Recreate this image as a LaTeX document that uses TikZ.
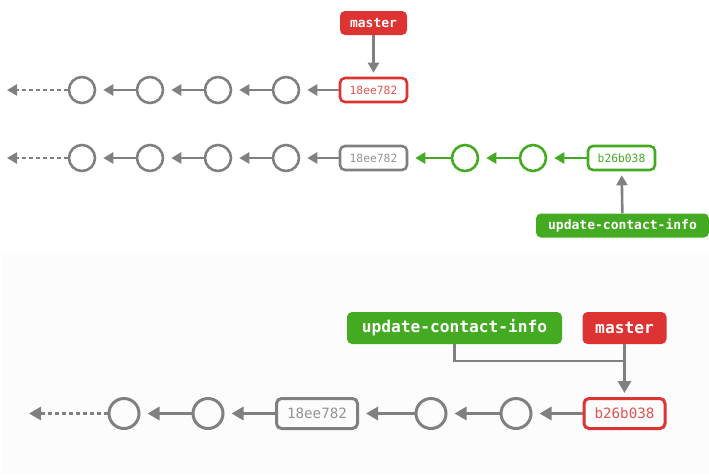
\documentclass[tikz,border=0pt]{standalone}
\usepackage{fontspec}
\setmonofont{DejaVu Sans Mono}
\usetikzlibrary{arrows.meta}
\definecolor{gitred}{RGB}{221,51,51}
\definecolor{gitgreen}{RGB}{68,170,34}
\definecolor{gitgray}{RGB}{128,128,128}
\definecolor{bandgray}{RGB}{252,252,252}
\tikzset{
  cmt/.style={circle, draw=gitgray, line width=2.6pt, minimum size=26pt, inner sep=0pt},
  bcmt/.style={cmt, line width=3pt, minimum size=30pt},
  hashbox/.style={rounded corners=5pt, draw, line width=2.6pt, minimum width=67pt, minimum height=24pt, inner sep=0pt, font=\ttfamily\fontsize{11.3}{13}\selectfont},
  bhashbox/.style={hashbox, line width=3pt, minimum width=81pt, minimum height=30pt, font=\ttfamily\fontsize{14.2}{16}\selectfont},
  lbl/.style={rounded corners=5pt, fill, text=white, minimum height=24pt, inner sep=0pt, font=\ttfamily\bfseries\fontsize{13}{15}\selectfont},
  blbl/.style={lbl, minimum height=32pt, font=\ttfamily\bfseries\fontsize{16.2}{18}\selectfont},
  par/.style={draw=gitgray, line width=2.6pt, -{Triangle[length=10pt,width=11pt]}, shorten >=7pt},
  gpar/.style={par, draw=gitgreen, -{Triangle[length=10pt,width=11pt]}},
  bpar/.style={par, line width=3pt, -{Triangle[length=12pt,width=13pt]}, shorten >=7pt},
  ptr/.style={draw=gitgray, line width=2.6pt, -{Triangle[length=10pt,width=11pt]}, shorten >=4pt},
  bptr/.style={ptr, line width=3pt, -{Triangle[length=12pt,width=13pt]}},
  dsh/.style={dash pattern=on 4pt off 3pt},
}
\begin{document}
\begin{tikzpicture}[x=1pt,y=-1pt]
\useasboundingbox (0,0) rectangle (709,474);
\fill[bandgray] (1,253) rectangle (709,474);
% row 1
\coordinate (e1) at (7,90);
\node[cmt] (a1) at (82,90) {};
\node[cmt] (a2) at (150,90) {};
\node[cmt] (a3) at (218,90) {};
\node[cmt] (a4) at (286,90) {};
\node[hashbox, draw=gitred, text=gitred!85] (a5) at (373.5,90) {18ee782};
\node[lbl, fill=gitred, minimum width=67pt] (m1) at (373.5,23) {master};
\draw[par, dsh, shorten >=0pt] (a1) -- (e1);
\draw[par] (a2) -- (a1);
\draw[par] (a3) -- (a2);
\draw[par] (a4) -- (a3);
\draw[par] (a5) -- (a4);
\draw[ptr] (m1) -- (a5);
% row 2
\coordinate (e2) at (7,158);
\node[cmt] (b1) at (82,158) {};
\node[cmt] (b2) at (150,158) {};
\node[cmt] (b3) at (218,158) {};
\node[cmt] (b4) at (286,158) {};
\node[hashbox, draw=gitgray, text=gitgray!85] (b5) at (373.5,158) {18ee782};
\node[cmt, draw=gitgreen] (b6) at (465,158) {};
\node[cmt, draw=gitgreen] (b7) at (533,158) {};
\node[hashbox, draw=gitgreen, text=gitgreen] (b8) at (621.5,158) {b26b038};
\node[lbl, fill=gitgreen, minimum width=173pt] (u1) at (622.5,225.5) {update-contact-info};
\draw[par, dsh, shorten >=0pt] (b1) -- (e2);
\draw[par] (b2) -- (b1);
\draw[par] (b3) -- (b2);
\draw[par] (b4) -- (b3);
\draw[par] (b5) -- (b4);
\draw[gpar] (b6) -- (b5);
\draw[gpar] (b7) -- (b6);
\draw[gpar] (b8) -- (b7);
\draw[ptr] (u1) -- (b8);
% row 3
\coordinate (e3) at (29,413.5);
\node[bcmt] (c1) at (124,413.5) {};
\node[bcmt] (c2) at (208,413.5) {};
\node[bhashbox, draw=gitgray, text=gitgray!85] (c3) at (317,413.5) {18ee782};
\node[bcmt] (c4) at (431,413.5) {};
\node[bcmt] (c5) at (516,413.5) {};
\node[bhashbox, draw=gitred, text=gitred!85] (c6) at (624.5,413.5) {b26b038};
\node[blbl, fill=gitgreen, minimum width=215pt] (u2) at (454.5,328) {update-contact-info};
\node[blbl, fill=gitred, minimum width=84pt] (m2) at (624.5,328) {master};
\coordinate (j) at (624.5,361);
\draw[bpar, dsh, shorten >=0pt] (c1) -- (e3);
\draw[bpar] (c2) -- (c1);
\draw[bpar] (c3) -- (c2);
\draw[bpar] (c4) -- (c3);
\draw[bpar] (c5) -- (c4);
\draw[bpar] (c6) -- (c5);
\draw[draw=gitgray, line width=2.5pt] (u2.south) |- (j);
\draw[bptr] (m2) -- (c6);
\end{tikzpicture}
\end{document}
